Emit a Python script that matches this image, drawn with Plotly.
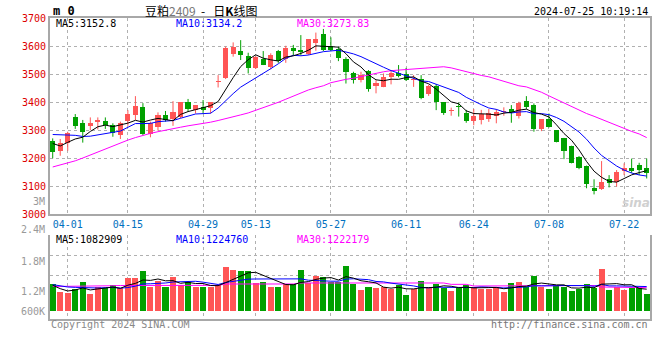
import plotly.graph_objects as go

W, H = 660, 360

# ---------------- data ----------------
tick_idx = [2, 10, 20, 27, 37, 47, 56, 66, 76]
tick_labels = ["04-01", "04-15", "04-29", "05-13", "05-27", "06-11", "06-24", "07-08", "07-22"]

opens = [3262, 3227, 3256, 3346, 3326, 3315, 3330, 3333, 3319, 3282,
         3332, 3355, 3384, 3288, 3311, 3353, 3340, 3349, 3401, 3372,
         3382, 3380, 3472, 3488, 3573, 3583, 3565, 3524, 3555, 3527,
         3583, 3555, 3594, 3587, 3571, 3613, 3644, 3602, 3591, 3553,
         3503, 3479, 3511, 3459, 3456, 3492, 3503, 3501, 3480, 3482,
         3430, 3459, 3400, 3368, 3385, 3363, 3333, 3337, 3340, 3351,
         3365, 3376, 3352, 3405, 3390, 3305, 3339, 3301, 3273, 3245,
         3206, 3174, 3095, 3089, 3125, 3117, 3156, 3166, 3175, 3166]
highs = [3271, 3269, 3295, 3358, 3337, 3346, 3346, 3346, 3325, 3331,
         3372, 3422, 3397, 3331, 3364, 3369, 3404, 3401, 3412, 3390,
         3408, 3401, 3497, 3599, 3614, 3622, 3577, 3565, 3583, 3575,
         3587, 3602, 3605, 3640, 3626, 3649, 3662, 3632, 3598, 3561,
         3509, 3509, 3515, 3479, 3503, 3515, 3533, 3523, 3497, 3497,
         3463, 3465, 3400, 3381, 3399, 3373, 3376, 3373, 3376, 3376,
         3382, 3390, 3402, 3422, 3396, 3339, 3360, 3301, 3273, 3245,
         3208, 3174, 3125, 3190, 3140, 3158, 3182, 3199, 3184, 3199]
lows = [3200, 3209, 3227, 3305, 3256, 3301, 3303, 3305, 3277, 3269,
        3316, 3337, 3282, 3275, 3299, 3331, 3316, 3343, 3366, 3360,
        3360, 3360, 3453, 3483, 3563, 3551, 3503, 3519, 3533, 3518,
        3541, 3541, 3567, 3567, 3569, 3584, 3583, 3583, 3547, 3467,
        3467, 3471, 3438, 3432, 3454, 3464, 3489, 3476, 3455, 3411,
        3423, 3372, 3355, 3352, 3349, 3327, 3318, 3321, 3330, 3325,
        3352, 3327, 3342, 3375, 3295, 3297, 3310, 3257, 3197, 3182,
        3161, 3093, 3071, 3087, 3096, 3099, 3140, 3148, 3140, 3128]
closes = [3224, 3253, 3289, 3317, 3294, 3326, 3337, 3319, 3289, 3325,
          3358, 3387, 3288, 3325, 3355, 3337, 3365, 3401, 3376, 3390,
          3372, 3401, 3474, 3595, 3599, 3569, 3524, 3561, 3535, 3570,
          3547, 3595, 3583, 3578, 3626, 3626, 3587, 3587, 3559, 3509,
          3479, 3497, 3447, 3470, 3492, 3506, 3495, 3479, 3482, 3416,
          3459, 3400, 3363, 3370, 3382, 3333, 3351, 3360, 3363, 3366,
          3367, 3364, 3399, 3382, 3305, 3339, 3313, 3259, 3227, 3185,
          3166, 3107, 3085, 3117, 3113, 3152, 3166, 3156, 3158, 3146]
# volume, millions of lots
volumes = [1.347, 1.180, 1.160, 1.240, 1.380, 1.147, 1.280, 1.260, 1.320, 1.260,
           1.460, 1.460, 1.600, 1.280, 1.400, 1.280, 1.480, 1.327, 1.380, 1.280,
           1.280, 1.280, 1.313, 1.680, 1.627, 1.600, 1.600, 1.360, 1.380, 1.280,
           1.280, 1.347, 1.333, 1.620, 1.360, 1.500, 1.480, 1.380, 1.380, 1.700,
           1.347, 1.220, 1.280, 1.260, 1.280, 1.247, 1.313, 1.120, 1.247, 1.400,
           1.260, 1.347, 1.267, 1.200, 1.260, 1.313, 1.273, 1.247, 1.247, 1.280,
           1.180, 1.360, 1.380, 1.280, 1.500, 1.273, 1.247, 1.313, 1.280, 1.200,
           1.247, 1.340, 1.260, 1.640, 1.220, 1.280, 1.220, 1.267, 1.267, 1.147]

ma5_head = [3253, 3244, 3257, 3269]
ma10_head = [3285, 3285, 3283, 3282, 3278, 3279, 3284, 3289, 3295]
ma30 = [3169, 3176, 3182, 3191, 3201, 3212, 3222, 3234, 3245, 3255,
        3265, 3274, 3282, 3289, 3295, 3301, 3306, 3311, 3316, 3320,
        3324, 3329, 3335, 3341, 3347, 3355, 3362, 3371, 3381, 3391,
        3400, 3411, 3422, 3434, 3444, 3452, 3459, 3470, 3477, 3482,
        3486, 3492, 3497, 3504, 3509, 3513, 3515, 3517, 3519, 3521,
        3524, 3525, 3527, 3523, 3516, 3509, 3502, 3496, 3491, 3483,
        3476, 3468, 3459, 3455, 3445, 3436, 3423, 3410, 3398, 3386,
        3373, 3360, 3350, 3339, 3328, 3317, 3305, 3296, 3287, 3274]

vol_ma5_head = [1.313, 1.247, 1.200, 1.220]
vol_ma10_head = [1.327, 1.300, 1.280, 1.273, 1.267, 1.260, 1.260, 1.267, 1.273]
vol_ma30 = ([1.29, 1.29, 1.295, 1.295, 1.30, 1.30, 1.30, 1.305, 1.305]
            + [1.31] * 11 + [1.313] * 3 + [1.34] * 10 + [1.36] * 15
            + [1.35] * 3 + [1.36] * 2 + [1.333] * 3 + [1.30] * 9
            + [1.31] * 8 + [1.28] * 4 + [1.267] * 3)

price_ticks = [3000, 3100, 3200, 3300, 3400, 3500, 3600, 3700]
vol_tick_labels = ["3M", "2.4M", "1.8M", "1.2M", "600K"]

header_ma = ["MA5:3152.8", "MA10:3134.2", "MA30:3273.83"]
header_vol = ["MA5:1082909", "MA10:1224760", "MA30:1222179"]


def rolling(vals, n, head):
    out = list(head)
    for i in range(len(head), len(vals)):
        w = vals[i - n + 1:i + 1]
        out.append(sum(w) / len(w))
    return out


ma5 = rolling(closes, 5, ma5_head)
ma10 = rolling(closes, 10, ma10_head)
vma5 = rolling(volumes, 5, vol_ma5_head)
vma10 = rolling(volumes, 10, vol_ma10_head)

# ---------------- styles ----------------
RED = "#FF5555"
GREEN = "#00A000"
MONO = "DejaVu Sans Mono"
GRID = "#B0B0B0"
BORDER = "#A8A8A8"
VOL_BASE = 0.8

n = len(closes)
xs = list(range(n))
up = [c >= o for o, c in zip(opens, closes)]
colors = [RED if u else GREEN for u in up]

fig = go.Figure()

# wicks
for flag, col in ((True, RED), (False, GREEN)):
    wx, wy = [], []
    for i in xs:
        if up[i] == flag:
            wx += [i, i, None]
            wy += [lows[i], highs[i], None]
    fig.add_trace(go.Scatter(x=wx, y=wy, mode="lines", line=dict(color=col, width=1),
                             hoverinfo="skip", xaxis="x", yaxis="y"))

# bodies
body_base = [min(o, c) for o, c in zip(opens, closes)]
body_h = [max(abs(c - o), 3.6) for o, c in zip(opens, closes)]
fig.add_trace(go.Bar(x=xs, y=body_h, base=body_base, width=0.68,
                     marker=dict(color=colors, line=dict(width=0)),
                     xaxis="x", yaxis="y"))

# price MAs
for vals, col in ((ma30, "#FF00FF"), (ma10, "#0000FF"), (ma5, "#000000")):
    fig.add_trace(go.Scatter(x=xs, y=vals, mode="lines", line=dict(color=col, width=1),
                             xaxis="x", yaxis="y"))

# volume
fig.add_trace(go.Bar(x=xs, y=[v - VOL_BASE for v in volumes], base=VOL_BASE, width=0.8,
                     marker=dict(color=colors, line=dict(width=0)),
                     xaxis="x2", yaxis="y2"))
for vals, col in ((vol_ma30, "#FF00FF"), (vma10, "#0000FF"), (vma5, "#000000")):
    fig.add_trace(go.Scatter(x=xs, y=vals, mode="lines", line=dict(color=col, width=1),
                             xaxis="x2", yaxis="y2"))


def px_x(p):
    return p / W


def px_y(p):
    return 1 - p / H


xdom = [px_x(50), px_x(650)]
xr = [-0.36, 79.44]

common_x = dict(range=xr, domain=xdom, showgrid=True, gridcolor=GRID, griddash="dot",
                gridwidth=1, tickmode="array", tickvals=tick_idx, ticks="",
                zeroline=False, automargin=False, fixedrange=True)

fig.update_layout(
    width=W, height=H, margin=dict(l=0, r=0, t=0, b=0),
    paper_bgcolor="white", plot_bgcolor="white", showlegend=False,
    barmode="overlay", bargap=0,
    xaxis=dict(**common_x, anchor="y", ticktext=tick_labels,
               tickfont=dict(family=MONO, size=10, color="#0070C0"),
               showline=True, linecolor=BORDER, linewidth=2, mirror=True),
    yaxis=dict(domain=[px_y(214.3), px_y(18.3)], range=[3000, 3700],
               tickmode="array", tickvals=price_ticks, ticktext=[str(t) for t in price_ticks],
               tickfont=dict(family=MONO, size=10, color="#DD0000"), ticks="",
               showgrid=True, gridcolor=GRID, griddash="dot", gridwidth=1,
               showline=True, linecolor=BORDER, linewidth=2, mirror=True,
               zeroline=False, automargin=False, anchor="x", fixedrange=True),
    xaxis2=dict(**common_x, anchor="y2", showticklabels=False,
                showline=True, linecolor=BORDER, linewidth=2, mirror=False),
    yaxis2=dict(domain=[px_y(318.7), px_y(234.7)], range=[0.646, 2.326],
                tickmode="array", tickvals=[1.514, 1.914, 2.32], showticklabels=False,
                ticks="", showgrid=True, gridcolor=GRID, griddash="dot", gridwidth=1,
                showline=True, linecolor=BORDER, linewidth=2, mirror=True,
                zeroline=False, automargin=False, anchor="x2", fixedrange=True),
)

anns = []


def ann(text, x, y, color="#000", size=10, xanchor="left", family=MONO):
    anns.append(dict(text=text, x=px_x(x), y=px_y(y), xref="paper", yref="paper",
                     xanchor=xanchor, yanchor="middle", showarrow=False,
                     font=dict(family=family, size=size, color=color)))


# header
ann("<b>m 0</b>", 51, 11, "#000", 12)
ann("豆粕<span style='color:#777'>2409</span>&nbsp;&nbsp;-&nbsp;&nbsp;&nbsp;日<b>K</b>线图",
    201, 10, "#000", 12, "center", "Noto Sans CJK SC")
ann("2024-07-25 10:19:14", 650, 12, "#000", 10, "right")

ma_cols = ["#000000", "#0000FF", "#FF00FF"]
ma_x = [54, 174, 295]
for t, c, x in zip(header_ma, ma_cols, ma_x):
    ann(t, x, 24, c)
for t, c, x in zip(header_vol, ma_cols, ma_x):
    ann(t, x, 239, c)

# volume axis labels
vol_label_y = [201, 229.5, 261, 291, 311]
for t, y in zip(vol_tick_labels, vol_label_y):
    ann(t, 47, y, "#999999", 10, "right")

# footer
ann("Copyright 2024 SINA.COM", 49, 324, "#888888", 10)
ann("http://finance.sina.com.cn", 650, 324, "#777777", 10, "right")
ann("<i><b>sina</b></i>", 636, 203, "#D0D0D0", 12, "center", "DejaVu Sans")

fig.update_layout(annotations=anns)

fig.write_html("out.html", config={"staticPlot": True},
               post_script="document.body.style.margin='0px';")
